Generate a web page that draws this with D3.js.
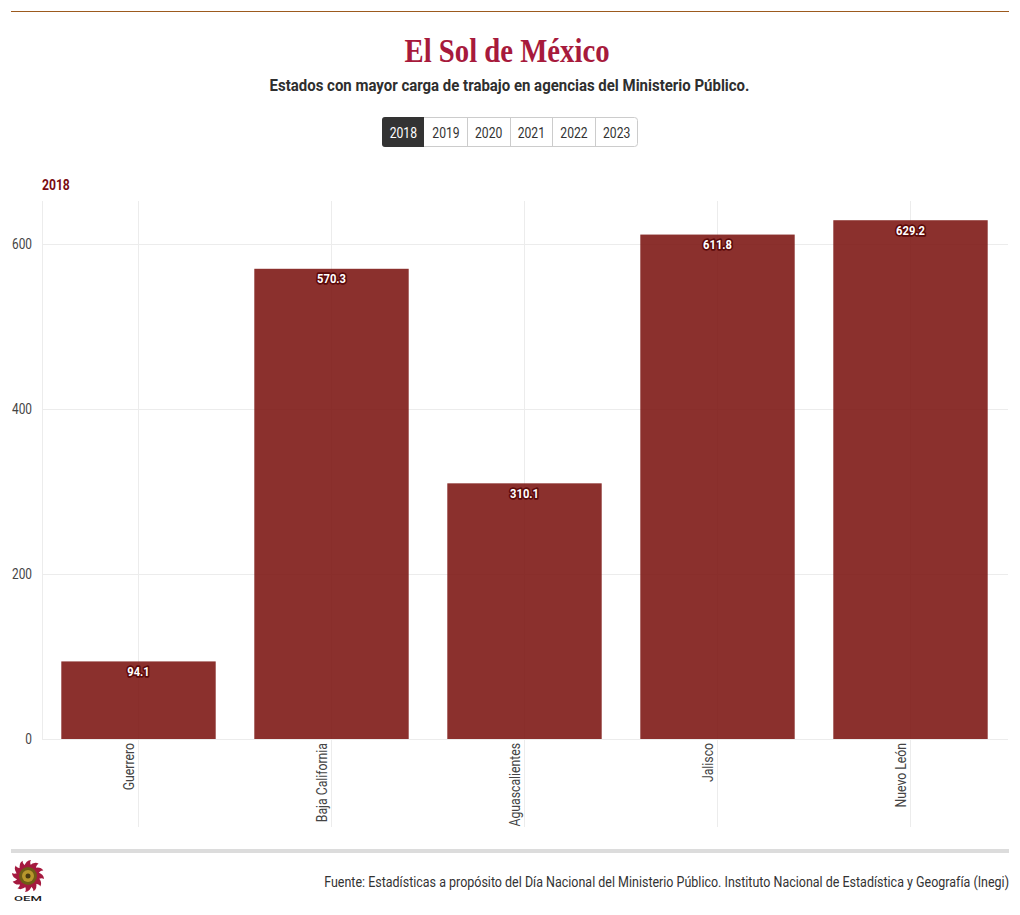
<!DOCTYPE html>
<html lang="es"><head><meta charset="utf-8">
<script src="https://cdn.jsdelivr.net/npm/d3@7/dist/d3.min.js"></script>
<style>html,body{margin:0;padding:0;background:#fff}svg{display:block}</style>
</head><body><svg id="c" width="1020" height="915"></svg>
<script>
const categories = ["Guerrero","Baja California","Aguascalientes","Jalisco","Nuevo León"];
const values2018 = [94.1,570.3,310.1,611.8,629.2];
const years = ["2018","2019","2020","2021","2022","2023"];
const yTicks = [0,200,400,600];
const brand = "El Sol de México";
const title = "Estados con mayor carga de trabajo en agencias del Ministerio Público.";
const source = "Fuente: Estadísticas a propósito del Día Nacional del Ministerio Público. Instituto Nacional de Estadística y Geografía (Inegi)";

const svg = d3.select("#c");
const F = "Roboto, sans-serif";
function label(g,x,y,txt,o={}){
  const sx=o.sx||0.84;
  const t=g.append("text").attr("transform",`translate(${x},${y}) ${o.rot?`rotate(${o.rot})`:""} scale(${sx},1)`)
    .attr("font-family",o.font||F).attr("font-size",o.size||14).attr("font-weight",o.weight||400)
    .attr("fill",o.fill||"#333").attr("text-anchor",o.anchor||"middle").text(txt);
  return t;
}
const x = d3.scaleBand().domain(categories).range([42,1007]).paddingInner(0.2).paddingOuter(0.1);
const y = d3.scaleLinear().domain([0,600]).range([739,244.3]);

svg.append("line").attr("x1",11).attr("x2",1009).attr("y1",11.5).attr("y2",11.5).attr("stroke","#9c5a1e").attr("stroke-width",1);
label(svg,507,62,brand,{font:"'Liberation Serif',serif",size:34,weight:700,fill:"#a71a3c",sx:0.845});
label(svg,509.5,91,title,{size:17,weight:700,fill:"#2f2f2f",sx:.881});

const bx = d3.scaleBand().domain(years).range([382,638]);
const bg = svg.append("g");
bg.append("rect").attr("x",382.5).attr("y",117.5).attr("width",255).attr("height",29).attr("rx",3).attr("fill","#fff").attr("stroke","#ccc");
years.forEach((yr,i)=>{
  const on=i===0;
  if(on) bg.append("path").attr("d","M385,117H424V147H385Q382,147 382,144V120Q382,117 385,117Z").attr("fill","#333");
  else if(i>1) bg.append("line").attr("x1",Math.floor(bx(yr))+.5).attr("x2",Math.floor(bx(yr))+.5).attr("y1",118).attr("y2",146).attr("stroke","#ccc");
  label(bg,bx(yr)+bx.bandwidth()/2,137.5,yr,{size:15,fill:on?"#fff":"#333",sx:.81});
});

label(svg,42,190,"2018",{size:15,weight:700,fill:"#7a0c12",anchor:"start",sx:.81});

const grid = svg.append("g").attr("stroke","#ececec").attr("stroke-width",1);
yTicks.forEach(t=>grid.append("line").attr("x1",42).attr("x2",1008).attr("y1",Math.floor(y(t))+.5).attr("y2",Math.floor(y(t))+.5));
categories.forEach(c=>{const p=Math.floor(x(c)+x.bandwidth()/2)+.5;
  grid.append("line").attr("x1",p).attr("x2",p).attr("y1",201).attr("y2",827);});
grid.append("line").attr("x1",42.5).attr("x2",42.5).attr("y1",201).attr("y2",739);

svg.append("g").selectAll("rect").data(categories).join("rect")
  .attr("x",c=>x(c)).attr("width",x.bandwidth())
  .attr("y",(c,i)=>y(values2018[i])).attr("height",(c,i)=>y(0)-y(values2018[i]))
  .attr("fill","#7b1310").attr("fill-opacity",.88);

categories.forEach((c,i)=>{
  const px=x(c)+x.bandwidth()/2, py=y(values2018[i])+14.5;
  label(svg,px,py,values2018[i].toFixed(1),{size:12,weight:700,fill:"#fff",sx:.93})
    .attr("stroke","#5c0a0a").attr("stroke-width",3.4).attr("stroke-linejoin","round").attr("paint-order","stroke");
});

yTicks.forEach(t=>label(svg,32,Math.floor(y(t))+5,String(t),{size:15,fill:"#444",anchor:"end",sx:.79}));
categories.forEach(c=>label(svg,x(c)+x.bandwidth()/2-5,743,c,{size:15,fill:"#444",anchor:"end",rot:-90,sx:.816}));

svg.append("rect").attr("x",11).attr("y",849).attr("width",998).attr("height",4).attr("fill","#dcdcdc");
label(svg,1009,887,source,{size:15,fill:"#333",anchor:"end",sx:.833});

const logo = svg.append("g").attr("transform","translate(28,876)");
const rays = d3.range(12).map(i=>i*30);
logo.selectAll("path").data(rays).join("path").attr("d","M-4,-9 Q-2,-16 3,-16 Q1,-13 4,-9Z").attr("fill","#a51a3f").attr("transform",d=>`rotate(${d})`);
logo.append("circle").attr("r",11).attr("fill","#a51a3f");
logo.append("circle").attr("r",9).attr("fill","#6e5c16");
logo.append("circle").attr("r",6).attr("fill","#b8962c");
logo.append("circle").attr("r",2.5).attr("fill","#4a3a10");
logo.append("text").attr("transform","translate(0,25) scale(1.75,.85)").attr("text-anchor","middle").attr("font-family",F).attr("font-size",7.5).attr("font-weight",500).attr("fill","#222").text("OEM");
</script></body></html>
